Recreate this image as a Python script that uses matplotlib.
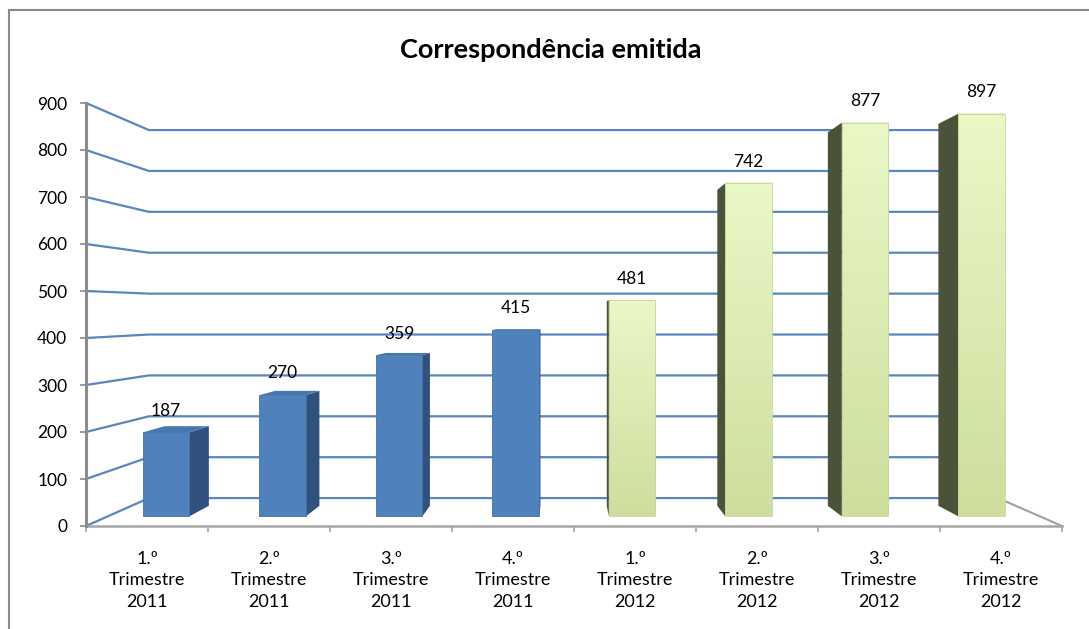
import numpy as np
import matplotlib
matplotlib.use("Agg")
import matplotlib.pyplot as plt
from matplotlib.patches import Polygon, Rectangle
from matplotlib.ticker import FixedLocator, NullFormatter

# ---------------- data ----------------
categories = ["1.º\nTrimestre\n2011", "2.º\nTrimestre\n2011", "3.º\nTrimestre\n2011",
              "4.º\nTrimestre\n2011", "1.º\nTrimestre\n2012", "2.º\nTrimestre\n2012",
              "3.º\nTrimestre\n2012", "4.º\nTrimestre\n2012"]
values = [187, 270, 359, 415, 481, 742, 877, 897]
year_group = ["2011", "2011", "2011", "2011", "2012", "2012", "2012", "2012"]
y_ticks = [0, 100, 200, 300, 400, 500, 600, 700, 800, 900]
title = "Correspondência emitida"

# ---------------- style ----------------
plt.rcParams['font.family'] = ['Lato', 'DejaVu Sans']
W, H = 1089, 629
fig = plt.figure(figsize=(W / 100, H / 100), dpi=100)
fig.patch.set_facecolor("white")

ax = fig.add_axes([86 / W, (H - 526) / H, 976 / W, 423 / H])
ax.set_facecolor("none")

ncat = len(values)
ymax = y_ticks[-1]

# perspective (in data units of the front plane)
VPX, VPY = 3.967, 457.0
S_WALL = 0.87       # back wall scale
S_BF, S_BB = 0.955, 0.906   # bar front / back scale
HALF_W = 0.2

def proj(x, v, s):
    return VPX + s * (x - VPX), VPY + s * (v - VPY)

grid_col = "#5A86BF"
axis_col = "#8C8C8C"

# gridlines: floor/side slant + back wall
for v in y_ticks:
    pts = [proj(0, v, 1.0), proj(0, v, S_WALL), proj(ncat, v, S_WALL)]
    xs, ys = zip(*pts)
    ax.plot(xs, ys, color=grid_col, lw=1.6, clip_on=False, zorder=1,
            solid_joinstyle='miter')
# right floor edge
p1, p2 = proj(ncat, 0, 1.0), proj(ncat, 0, S_WALL)
ax.plot([p1[0], p2[0]], [p1[1], p2[1]], color="#A0A0A0", lw=1.5, clip_on=False, zorder=1)

colors = {
    "2011": dict(front="#4F81BD", side="#30517D", top="#4877B0"),
    "2012": dict(front=None, side="#4A5238", top="#C9DA9A"),
}

grad = np.linspace(0, 1, 256)[:, None]
c_top = np.array(matplotlib.colors.to_rgb("#EAF8C6"))
c_bot = np.array(matplotlib.colors.to_rgb("#CDDE9E"))
grad_img = (c_top[None, None, :] * (1 - grad[..., None]) + c_bot[None, None, :] * grad[..., None])

for i, (v, g) in enumerate(zip(values, year_group)):
    cx = i + 0.5
    x0, x1 = cx - HALF_W, cx + HALF_W
    col = colors[g]
    # side face
    if x0 > VPX:
        side = [proj(x0, 0, S_BF), proj(x0, v, S_BF), proj(x0, v, S_BB), proj(x0, 0, S_BB)]
        ax.add_patch(Polygon(side, closed=True, fc=col["side"], ec="none", zorder=3, clip_on=False))
    if x1 < VPX:
        side = [proj(x1, 0, S_BF), proj(x1, v, S_BF), proj(x1, v, S_BB), proj(x1, 0, S_BB)]
        ax.add_patch(Polygon(side, closed=True, fc=col["side"], ec="none", zorder=3, clip_on=False))
    # top face
    if v < VPY:
        top = [proj(x0, v, S_BF), proj(x1, v, S_BF), proj(x1, v, S_BB), proj(x0, v, S_BB)]
        ax.add_patch(Polygon(top, closed=True, fc=col["top"], ec="none", zorder=3, clip_on=False))
    # front face
    fx0, fy0 = proj(x0, 0, S_BF)
    fx1, fy1 = proj(x1, v, S_BF)
    if col["front"] is not None:
        ax.add_patch(Rectangle((fx0, fy0), fx1 - fx0, fy1 - fy0, fc=col["front"],
                               ec="#46729F", lw=0.6, zorder=4, clip_on=False))
    else:
        ax.imshow(grad_img, extent=[fx0, fx1, fy0, fy1], aspect='auto', zorder=4,
                  interpolation='bilinear', clip_on=False)
        ax.add_patch(Rectangle((fx0, fy0), fx1 - fx0, fy1 - fy0, fc="none",
                               ec="#C5D49A", lw=0.6, zorder=5, clip_on=False))
    # data label
    lx, ly = proj(cx, v, S_BF)
    ax.annotate(str(v), xy=(lx, ly), xytext=(0, 12), textcoords='offset points',
                ha='center', va='baseline', fontsize=12.5, color="black", zorder=6)

ax.set_xlim(0, ncat)
ax.set_ylim(0, ymax)

# axes styling
for s in ["top", "right"]:
    ax.spines[s].set_visible(False)
ax.spines["left"].set_color(axis_col)
ax.spines["left"].set_linewidth(2.2)
ax.spines["bottom"].set_color("#A6A6A6")
ax.spines["bottom"].set_linewidth(1.8)
ax.spines["left"].set_zorder(7)

ax.set_yticks(y_ticks)
ax.set_yticklabels([str(t) for t in y_ticks])
ax.tick_params(axis='y', direction='out', length=4.5, width=1.2, color=axis_col,
               labelsize=12.5, pad=9)

ax.xaxis.set_major_locator(FixedLocator(np.arange(0, ncat + 1)))
ax.xaxis.set_major_formatter(NullFormatter())
ax.xaxis.set_minor_locator(FixedLocator(np.arange(ncat) + 0.5))
ax.set_xticks(np.arange(ncat) + 0.5, minor=True)
ax.set_xticklabels(categories, minor=True, fontsize=13, linespacing=1.42)
ax.tick_params(axis='x', which='major', direction='out', length=4, width=1.2, color="#A6A6A6")
ax.tick_params(axis='x', which='minor', length=0, pad=18)

fig.text(551 / W, 1 - 57.5 / H, title, ha='center', va='baseline', fontsize=19.5,
         fontweight='bold', color='black')

# chart border
fig.add_artist(Rectangle((9 / W, -0.1), 1.2, (H - 10) / H + 0.1, transform=fig.transFigure,
                         fill=False, ec="#8A8A8A", lw=1.5))

fig.savefig("out.png", dpi=100)
